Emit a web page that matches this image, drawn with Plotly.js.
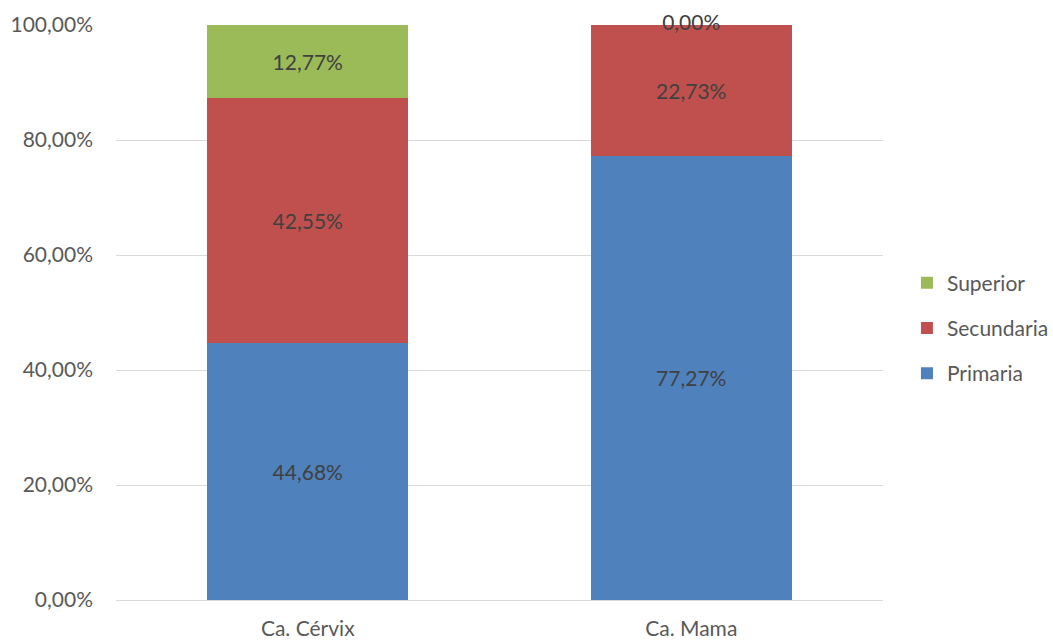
<!DOCTYPE html>
<html>
<head>
<meta charset="utf-8">
<script src="https://cdn.plot.ly/plotly-3.0.1.min.js"></script>
<style>html,body{margin:0;padding:0;background:#fff;}#chart{width:1053px;height:642px;}</style>
</head>
<body>
<div id="chart"></div>
<script>
const categories = ["Ca. Cérvix", "Ca. Mama"];
const primaria = [44.68, 77.27];
const secundaria = [42.55, 22.73];
const superior = [12.77, 0];
const seriesNames = ["Primaria", "Secundaria", "Superior"];
const colors = ["#4f81bd", "#c0504d", "#9bbb59"];
const yTicks = [0, 20, 40, 60, 80, 100];

const fontFam = "Lato, 'Open Sans', sans-serif";
const FS = 21;
const fmt = v => v.toFixed(2).replace('.', ',') + '%';

const series = [primaria, secundaria, superior];
const traces = series.map((vals, i) => ({
  type: 'bar',
  name: seriesNames[i],
  x: categories,
  y: vals,
  marker: {color: colors[i]},
  text: vals.map(v => v > 0 ? fmt(v) : ''),
  textposition: 'inside',
  insidetextanchor: 'middle',
  textangle: 0,
  textfont: {family: fontFam, size: FS, color: '#404040'},
  legendgroup: 'g' + i,
  legendrank: 3 - i,
  hoverinfo: 'skip'
}));

// labels for zero-valued segments, placed at the stacked top
const zx = [], zy = [], zt = [];
categories.forEach((c, j) => {
  if (superior[j] === 0) {
    zx.push(c);
    zy.push(primaria[j] + secundaria[j] + superior[j]);
    zt.push(fmt(superior[j]));
  }
});
traces.push({
  type: 'scatter', mode: 'text', x: zx, y: zy, text: zt,
  textposition: 'middle center',
  textfont: {family: fontFam, size: FS, color: '#404040'},
  showlegend: false, hoverinfo: 'skip', cliponaxis: false
});

const layout = {
  width: 1053, height: 642,
  margin: {l: 116, r: 170, t: 25, b: 42},
  barmode: 'stack',
  bargap: 0.475,
  paper_bgcolor: '#ffffff',
  plot_bgcolor: '#ffffff',
  font: {family: fontFam, size: FS, color: '#595959'},
  xaxis: {
    showline: true, linecolor: '#d9d9d9', linewidth: 1,
    ticks: '', showgrid: false, ticklabelstandoff: 10,
    tickfont: {family: fontFam, size: FS, color: '#595959'},
    automargin: false
  },
  yaxis: {
    range: [0, 100], tickmode: 'array', tickvals: yTicks,
    ticktext: yTicks.map(fmt),
    showgrid: true, gridcolor: '#d9d9d9', gridwidth: 1,
    zeroline: false, showline: false, ticks: '', ticklabelstandoff: 22,
    tickfont: {family: fontFam, size: FS, color: '#595959'},
    automargin: false
  },
  legend: {
    xref: 'container', yref: 'container',
    x: 0.8613, xanchor: 'left', y: (642 - 328) / 642, yanchor: 'middle',
    traceorder: 'grouped', tracegroupgap: 15,
    font: {family: fontFam, size: FS, color: '#595959'},
    itemwidth: 30
  },
  showlegend: true
};

Plotly.newPlot('chart', traces, layout, {displayModeBar: false, staticPlot: true});
</script>
</body>
</html>
